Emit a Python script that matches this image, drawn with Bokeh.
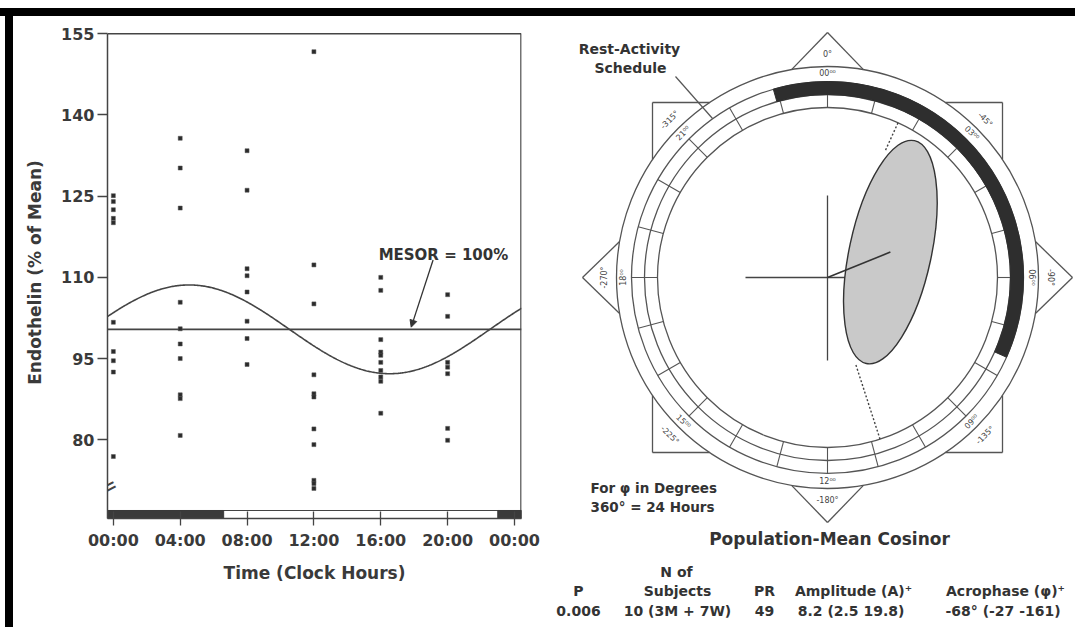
import math
import numpy as np
from bokeh.plotting import figure
from bokeh.models import Range1d, FixedTicker, Label, Arrow, NormalHead, Spacer, Div
from bokeh.layouts import column, row
from bokeh.embed import file_html
from bokeh.resources import INLINE
from bokeh.core.properties import value

# ---------------- data ----------------
sample_hours = [0, 4, 8, 12, 16, 20]
endo_0000 = [125.1, 124.0, 122.5, 120.9, 120.1, 101.7, 96.3, 94.6, 92.5, 76.9]
endo_0400 = [135.7, 130.2, 122.8, 105.4, 100.5, 97.7, 95.0, 88.3, 87.6, 80.8]
endo_0800 = [133.4, 126.1, 111.6, 110.3, 107.3, 101.9, 98.7, 93.9]
endo_1200 = [151.7, 112.3, 105.1, 92.0, 88.5, 87.9, 82.0, 79.1, 72.5, 71.9, 71.0]
endo_1600 = [110.0, 107.6, 98.5, 96.2, 95.6, 94.3, 92.8, 91.6, 90.8, 84.9]
endo_2000 = [106.8, 102.8, 94.3, 93.4, 92.2, 82.1, 79.9]
endo_columns = [endo_0000, endo_0400, endo_0800, endo_1200, endo_1600, endo_2000]

x_ticks = [0, 4, 8, 12, 16, 20, 24]
x_tick_labels = ["00:00", "04:00", "08:00", "12:00", "16:00", "20:00", "00:00"]
y_ticks = [80, 95, 110, 125, 140, 155]

# cosinor parameters
mesor = 100.4
amplitude = 8.2
acrophase_deg = -68.0
acro_limits_deg = [24.5, 162.0]      # dashed confidence lines as drawn (clock degrees)

# rest (dark) spans of the rest-activity schedule, clock hours
rest_start_h = 23.0
rest_end_h = 6.6
rest_polar_start_h = 22.93
rest_polar_end_h = 7.6

hour_ring_labels = ["00\u2070\u2070", "03\u2070\u2070", "06\u2070\u2070", "09\u2070\u2070",
                    "12\u2070\u2070", "15\u2070\u2070", "18\u2070\u2070", "21\u2070\u2070"]
degree_ring_labels = ["0\u00b0", "-45\u00b0", "-90\u00b0", "-135\u00b0",
                      "-180\u00b0", "-225\u00b0", "-270\u00b0", "-315\u00b0"]

table_head1 = "N of"
table_headers = ["P", "Subjects", "PR", "Amplitude (A)\u207a", "Acrophase (\u03c6)\u207a"]
table_values = ["0.006", "10 (3M + 7W)", "49", "8.2 (2.5  19.8)", "-68\u00b0 (-27  -161)"]

INK = "#333333"
FONT = "DejaVu Sans"
HIDE = {"overflow": "hidden"}

FIG_H = 611
TOP_B, BOT_B = 10, 109

# ---------------- left chart ----------------
x_lo, x_hi = -0.35, 24.42
y_lo, y_hi = 65.45, 156.35

pL = figure(width=540, height=FIG_H, x_range=Range1d(x_lo, x_hi), y_range=Range1d(y_lo, y_hi),
            toolbar_location=None, output_backend="svg",
            min_border_left=94, min_border_right=32, min_border_top=TOP_B, min_border_bottom=BOT_B)
pL.styles = HIDE
pL.xgrid.visible = False
pL.ygrid.visible = False
pL.outline_line_color = None
pL.background_fill_color = "white"
pL.border_fill_color = "white"

xs, ys = [], []
for h, col in zip(sample_hours, endo_columns):
    xs += [h] * len(col)
    ys += col

pL.line([x_lo, x_hi - 0.03, x_hi - 0.03], [155, 155, y_lo], line_color="#444444", line_width=1.5)

bar_top = 66.93
pL.quad(left=[x_lo], right=[x_hi - 0.03], bottom=[y_lo], top=[bar_top],
        fill_color="white", line_color="#444444", line_width=1.2)
pL.quad(left=[x_lo, rest_start_h], right=[rest_end_h, x_hi], bottom=[y_lo, y_lo],
        top=[bar_top, bar_top], fill_color="#3a3a3a", line_color="#3a3a3a")

pL.line([x_lo, x_hi], [mesor, mesor], line_color="#444444", line_width=1.6)
t = np.linspace(x_lo, x_hi, 400)
fit = mesor + amplitude * np.cos(2 * np.pi * t / 24.0 + math.radians(acrophase_deg))
pL.line(t, fit, line_color="#444444", line_width=1.6)

pL.scatter(xs, ys, marker="square", size=4, fill_color="#2b2b2b", line_color="#555555",
           line_width=0.5)

pL.add_layout(Label(x=19.75, y=114.2, text="MESOR = 100%", text_font=FONT,
                    text_font_style="bold", text_font_size="15px", text_color=INK,
                    text_align="center", text_baseline="middle"))
pL.add_layout(Arrow(end=NormalHead(size=7, fill_color=INK, line_color=INK),
                    x_start=19.13, y_start=113.2, x_end=17.82, y_end=100.8,
                    line_color=INK, line_width=1.3))
pL.add_layout(Label(x=x_lo, y=71.2, text="=", text_font=FONT, text_font_size="24px",
                    text_color="#444444", angle=math.radians(27),
                    text_align="center", text_baseline="middle"))

pL.xaxis.ticker = FixedTicker(ticks=x_ticks)
pL.xaxis.major_label_overrides = {tk: lb for tk, lb in zip(x_ticks, x_tick_labels)}
pL.yaxis.ticker = FixedTicker(ticks=y_ticks)
pL.yaxis.bounds = (y_lo, 155)
pL.xaxis.axis_label = "Time (Clock Hours)"
pL.yaxis.axis_label = "Endothelin (% of Mean)"
for ax in (pL.xaxis[0], pL.yaxis[0]):
    ax.major_label_text_font = FONT
    ax.major_label_text_font_style = "bold"
    ax.major_label_text_font_size = "16px"
    ax.major_label_text_color = "#3a3a3a"
    ax.axis_label_text_font = FONT
    ax.axis_label_text_font_style = "bold"
    ax.axis_label_text_font_size = "17px"
    ax.axis_label_text_color = "#3a3a3a"
    ax.axis_line_color = "#444444"
    ax.axis_line_width = 1.5
    ax.major_tick_line_color = "#444444"
    ax.major_tick_line_width = 1.3
    ax.minor_tick_line_color = None
pL.xaxis.major_tick_in = 7
pL.xaxis.major_tick_out = 7
pL.xaxis.major_label_standoff = 5
pL.xaxis.axis_label_standoff = 10
pL.yaxis.major_tick_in = 0
pL.yaxis.major_tick_out = 10
pL.yaxis.major_label_standoff = 3
pL.yaxis.axis_label_standoff = 13

# ---------------- right: population-mean cosinor ----------------
# frame spans page y 16..627, x 553..1075; polar centre at page (827, 277); 1 unit = 1 px
pR = figure(width=522, height=FIG_H, x_range=Range1d(-274, 248), y_range=Range1d(-350, 261),
            x_axis_type=None, y_axis_type=None, min_border=0, toolbar_location=None,
            output_backend="svg", outline_line_color=None)
pR.styles = HIDE
pR.background_fill_color = "white"
pR.border_fill_color = "white"

R_OUT, R_LAB, R_MID, R_IN = 211, 196, 183, 170
GRAY = "#555555"


def pol(r, deg):
    a = math.radians(deg)
    return r * math.sin(a), r * math.cos(a)


tx, ty = [], []
for th in (0, 90, 180, 270):
    ax_, ay_ = pol(245, th)
    for s in (-1, 1):
        bx, by = pol(R_OUT, th + s * 9.8)
        tx.append([ax_, bx])
        ty.append([ay_, by])
c = 175
q = math.sqrt(R_OUT ** 2 - c ** 2)
for sx in (-1, 1):
    for sy in (-1, 1):
        tx.append([sx * c, sx * q]); ty.append([sy * c, sy * c])
        tx.append([sx * c, sx * c]); ty.append([sy * c, sy * q])
pR.multi_line(tx, ty, line_color=GRAY, line_width=1.3)

pR.circle(x=[0, 0, 0, 0], y=[0, 0, 0, 0], radius=[R_OUT, R_LAB, R_MID, R_IN],
          fill_color=None, line_color=GRAY, line_width=1.3)

kx, ky = [], []
for h in range(24):
    x0, y0 = pol(R_IN, h * 15)
    x1, y1 = pol(R_LAB, h * 15)
    kx.append([x0, x1]); ky.append([y0, y1])
pR.multi_line(kx, ky, line_color=GRAY, line_width=1.1)

pR.annular_wedge(x=0, y=0, inner_radius=R_MID, outer_radius=R_LAB,
                 start_angle=math.radians(90 - (rest_polar_start_h * 15 - 360)),
                 end_angle=math.radians(90 - rest_polar_end_h * 15),
                 direction="clock", fill_color="#2e2e2e", line_color="#2e2e2e")

pR.multi_line([[-82, 82], [0, 0]], [[0, 0], [82, -83]], line_color="#444444", line_width=1.3)

px_per_unit = 8.27
vx, vy = pol(amplitude * px_per_unit, -acrophase_deg)
pR.ellipse(x=[vx], y=[vy], width=[82], height=[228], angle=[math.radians(-12.2)],
           fill_color="#c9c9c9", line_color="#333333", line_width=1.4)
pR.segment(x0=[0], y0=[0], x1=[vx], y1=[vy], line_color="#333333", line_width=1.6)

dxs, dys = [], []
for th, r0 in zip(acro_limits_deg, (140, 92)):
    x0, y0 = pol(r0, th)
    x1, y1 = pol(R_IN, th)
    dxs.append([x0, x1]); dys.append([y0, y1])
pR.multi_line(dxs, dys, line_color="#444444", line_width=1.4, line_dash="2 2")


def text_angle(th):
    th = th % 360
    if th <= 90:
        return math.radians(-th)
    if th >= 270:
        return math.radians(360 - th)
    return math.radians(180 - th)


hx, hy, ha = [], [], []
for i in range(8):
    th = i * 45
    x, y = pol(204, th)
    hx.append(x); hy.append(y); ha.append(text_angle(th))
pR.text(hx, hy, text=hour_ring_labels, angle=ha, text_font=value(FONT), text_font_size="8px",
        text_color="#444444", text_align="center", text_baseline="middle")
dx_, dy_ = [], []
for i in range(8):
    x, y = pol(223, i * 45)
    dx_.append(x); dy_.append(y)
pR.text(dx_, dy_, text=degree_ring_labels, angle=ha, text_font=value(FONT), text_font_size="8px",
        text_color="#444444", text_align="center", text_baseline="middle")

pR.segment(x0=[-152], y0=[201], x1=[-115], y1=[159], line_color=GRAY, line_width=1.2)


def add_text(xx, yy, txts, size, align="center"):
    pR.text(xx, yy, text=txts, text_font=value(FONT), text_font_style="bold",
            text_font_size=size, text_color=INK, text_align=align, text_baseline="middle")


add_text([-198, -197], [229, 210], ["Rest-Activity", "Schedule"], "14px")
add_text([-237, -237], [-210, -229], ["For \u03c6 in Degrees", "360\u00b0 = 24 Hours"],
         "13.5px", "left")
add_text([2], [-261], ["Population-Mean Cosinor"], "17px")
col_x = [-249, -150, -63, 26, 178]
add_text([-151], [-294], [table_head1], "14px")
add_text(col_x, [-313] * 5, table_headers, "14px")
add_text(col_x, [-333] * 5, table_values, "14px")

# ---------------- scan border strips ----------------
def black(w, h):
    return Div(text="", width=w, height=h, margin=0,
               styles={"background-color": "black", "overflow": "hidden"})


pR_box = column(pR, styles=HIDE)
main_row = row(Spacer(width=5, height=FIG_H), black(8, FIG_H), pL, pR_box, styles=HIDE)
layout = column(
    Spacer(width=1075, height=8),
    black(1075, 8),
    main_row,
    styles=HIDE,
)
open("out.html", "w").write(file_html(layout, INLINE))
